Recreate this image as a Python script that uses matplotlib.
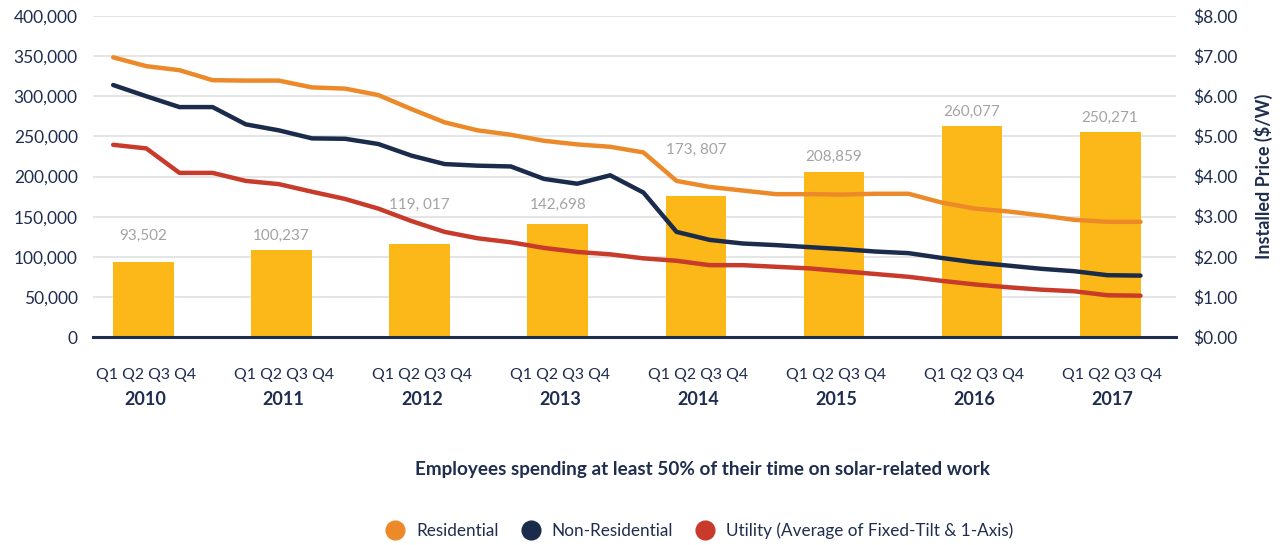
import numpy as np
import matplotlib
matplotlib.use("Agg")
import matplotlib.pyplot as plt
from matplotlib.lines import Line2D
from matplotlib.ticker import FuncFormatter, MultipleLocator

plt.rcParams['font.family'] = ['Lato', 'DejaVu Sans']

# ---- data ----
years = ['2010', '2011', '2012', '2013', '2014', '2015', '2016', '2017']
quarter_label = 'Q1 Q2 Q3 Q4'

# employees (bar heights as drawn) and the printed labels
employees = [93500, 109000, 115500, 140500, 175500, 205000, 263000, 255500]
employee_labels = ['93,502', '100,237', '119, 017', '142,698',
                   '173, 807', '208,859', '260,077', '250,271']

# installed price $/W, one value per quarter 2010 Q1 .. 2017 Q4
residential = [6.97, 6.75, 6.65, 6.40, 6.39, 6.39, 6.22, 6.19,
               6.03, 5.68, 5.35, 5.15, 5.04, 4.89, 4.80, 4.74,
               4.60, 3.89, 3.74, 3.65, 3.56, 3.56, 3.55, 3.57,
               3.57, 3.35, 3.20, 3.13, 3.03, 2.92, 2.87, 2.87]
non_residential = [6.28, 6.00, 5.73, 5.73, 5.30, 5.15, 4.95, 4.94,
                   4.81, 4.52, 4.31, 4.27, 4.25, 3.94, 3.82, 4.03,
                   3.60, 2.62, 2.42, 2.33, 2.29, 2.24, 2.19, 2.13,
                   2.09, 1.97, 1.86, 1.78, 1.70, 1.64, 1.54, 1.53]
utility = [4.79, 4.70, 4.09, 4.09, 3.89, 3.81, 3.62, 3.44,
           3.20, 2.89, 2.62, 2.46, 2.36, 2.22, 2.12, 2.06,
           1.96, 1.90, 1.79, 1.79, 1.75, 1.71, 1.64, 1.57,
           1.50, 1.40, 1.31, 1.24, 1.18, 1.14, 1.04, 1.03]

series_names = ['Residential', 'Non-Residential', 'Utility (Average of Fixed-Tilt & 1-Axis)']

# label placement (left-axis units)
label_y = [126600, 125400, 164600, 164600, 233600, 224800, 280500, 273000]

# ---- style ----
NAVY_TEXT = '#1F2D4E'
BAR = '#FBB818'
COLORS = ['#EC8A2A', '#1B2B4B', '#C83A2A']
GRID = '#E3E3E3'
LABEL_GRAY = '#A3A3A3'

W, H = 1286, 545
fig = plt.figure(figsize=(W / 100, H / 100), dpi=100)
ax = fig.add_axes([93 / W, 1 - 337 / H, (1176 - 93) / W, (337 - 16) / H])

bar_w = 0.44
x = np.arange(len(years))
ax.bar(x, employees, width=bar_w, color=BAR, zorder=2)
for xi, yl, txt in zip(x, label_y, employee_labels):
    ax.text(xi, yl, txt, ha='center', va='center', fontsize=11, color=LABEL_GRAY)

ax.set_xlim(-0.366, 7.477)
ax.set_ylim(0, 400000)
ax.yaxis.set_major_locator(MultipleLocator(50000))
ax.yaxis.set_major_formatter(FuncFormatter(lambda v, p: f'{int(v):,}'))
ax.grid(axis='y', color=GRID, linewidth=1.3, zorder=0)
ax.set_axisbelow(True)
for s in ['top', 'right', 'left']:
    ax.spines[s].set_visible(False)
ax.spines['bottom'].set_color(NAVY_TEXT)
ax.spines['bottom'].set_linewidth(2.2)
ax.spines['bottom'].set_zorder(5)
ax.tick_params(axis='y', length=0, pad=11, labelsize=12.5, labelcolor=NAVY_TEXT)
ax.set_xticks([])

# quarter / year labels under each bar
for xi, yr in zip(x, years):
    ax.text(xi + 0.015, -0.118, quarter_label, transform=ax.get_xaxis_transform(),
            ha='center', va='center', fontsize=11.4, color=NAVY_TEXT)
    ax.text(xi + 0.015, -0.196, yr, transform=ax.get_xaxis_transform(),
            ha='center', va='center', fontsize=13, fontweight='bold', color=NAVY_TEXT)

# price lines on the right axis
ax2 = ax.twinx()
qx = np.linspace(-bar_w / 2, len(years) - 1 + bar_w / 2, len(residential))
for vals, c in zip([residential, non_residential, utility], COLORS):
    ax2.plot(qx, vals, color=c, linewidth=3.2, solid_capstyle='round',
             solid_joinstyle='round', zorder=3)
ax2.set_ylim(0, 8)
ax2.yaxis.set_major_locator(MultipleLocator(1))
ax2.yaxis.set_major_formatter(FuncFormatter(lambda v, p: f'${v:.2f}'))
ax2.tick_params(axis='y', length=0, pad=12, labelsize=12.5, labelcolor=NAVY_TEXT)
for s in ax2.spines.values():
    s.set_visible(False)
ax2.set_ylabel('Installed Price ($/W)', fontsize=13, fontweight='bold',
               color=NAVY_TEXT, labelpad=12)

fig.text(702.5 / W, 1 - 470 / H,
         'Employees spending at least 50% of their time on solar-related work',
         ha='center', va='center', fontsize=13.6, fontweight='bold', color=NAVY_TEXT)

handles = [Line2D([], [], linestyle='none', marker='o', markersize=13.5,
                  markerfacecolor=c, markeredgecolor=c) for c in COLORS]
fig.legend(handles, series_names, loc='center', bbox_to_anchor=(700 / W, 1 - 531 / H),
           ncol=3, frameon=False, fontsize=12.3, labelcolor=NAVY_TEXT,
           handlelength=1.0, handletextpad=0.7, columnspacing=1.4)

fig.savefig('out.png', dpi=100)
